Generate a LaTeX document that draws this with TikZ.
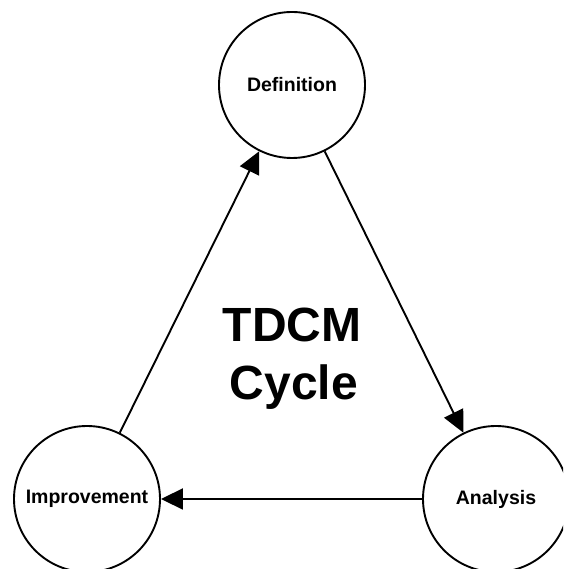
\documentclass[tikz,border=0pt]{standalone}
\usepackage{fontspec}
\setmainfont{Liberation Sans}
\usetikzlibrary{arrows.meta}
\tikzset{>={Triangle[length=22pt,width=21pt]}}
\tikzset{
  phase/.style={draw, circle, line width=1.9pt, minimum size=146pt, inner sep=0pt,
    font=\fontsize{19.5}{22}\selectfont\bfseries},
  cyc/.style={font=\fontsize{48}{56}\selectfont\bfseries, anchor=base}
}

\begin{document}
\begin{tikzpicture}[x=1pt,y=1pt]
    \useasboundingbox (0,0) rectangle (563,569);
    \clip (0,0) rectangle (563,569);
    \node [phase] (def) at (292,484) {Definition};
    \node [phase] (ana) at (496,70) {Analysis};
    \node [phase] (imp) at (87,70) {Improvement};
    % cycle arrows
    \draw [->, line width=1.9pt] (imp) -- (def);
    \draw [->, line width=1.9pt] (def) -- (ana);
    \draw [->, line width=1.9pt] (ana) -- (imp);
    \node [cyc] (ttl1) at (292,227) {TDCM};
    \node [cyc] (ttl2) at (294,169) {Cycle};
\end{tikzpicture}
\end{document}
